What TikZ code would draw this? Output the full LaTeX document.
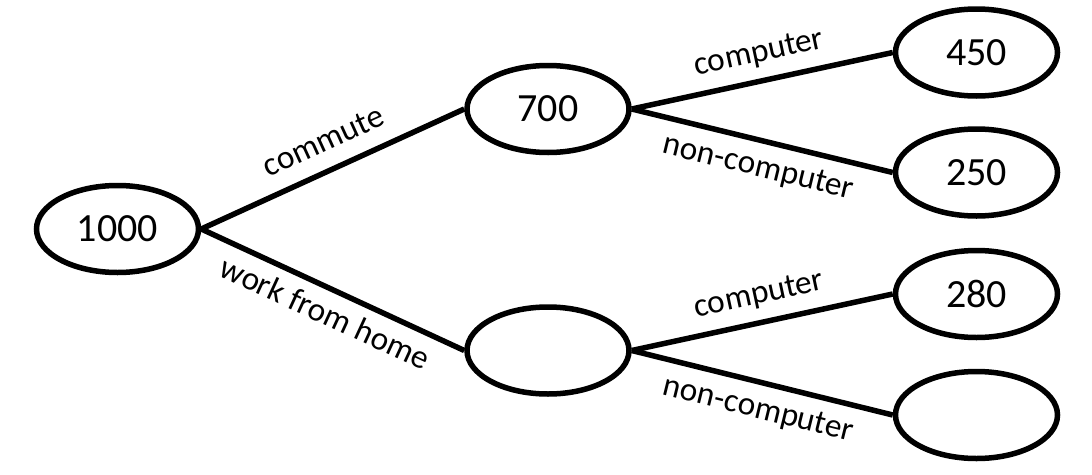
\documentclass[tikz,border=0pt]{standalone}
\usepackage{fontspec}
\setmainfont{Carlito}
\usetikzlibrary{shapes.geometric}
\begin{document}
\begin{tikzpicture}[x=1pt,y=-1pt,
  oval/.style={ellipse,draw=black,line width=5.5pt,minimum width=162pt,minimum height=87pt,inner sep=0pt,font=\fontsize{40}{40}\selectfont},
  conn/.style={line width=5.5pt,black},
  labup/.style={sloped,pos=0.51,anchor=south,text depth=0pt,inner xsep=0pt,inner ysep=19pt,outer sep=0pt,font=\fontsize{33.3}{33.3}\selectfont},
  labdown/.style={sloped,pos=0.51,anchor=north,text height=15.5pt,inner xsep=0pt,inner ysep=20pt,outer sep=0pt,font=\fontsize{33.3}{33.3}\selectfont}]
\useasboundingbox (0,0) rectangle (1092,474);
\node[oval] (A) at (117.5,229) {1000};
\node[oval] (B) at (548,109) {700};
\node[oval] (C) at (548,350.5) {};
\node[oval] (D) at (976.5,52.5) {450};
\node[oval] (E) at (976.5,172.5) {250};
\node[oval] (F) at (976.5,294) {280};
\node[oval] (G) at (976.5,415) {};
\draw[conn] (A.east) -- node[labup]{commute} (B.west);
\draw[conn] (A.east) -- node[labdown]{work from home} (C.west);
\draw[conn] (B.east) -- node[labup]{computer} (D.west);
\draw[conn] (B.east) -- node[labdown]{non-computer} (E.west);
\draw[conn] (C.east) -- node[labup]{computer} (F.west);
\draw[conn] (C.east) -- node[labdown]{non-computer} (G.west);
\end{tikzpicture}
\end{document}
